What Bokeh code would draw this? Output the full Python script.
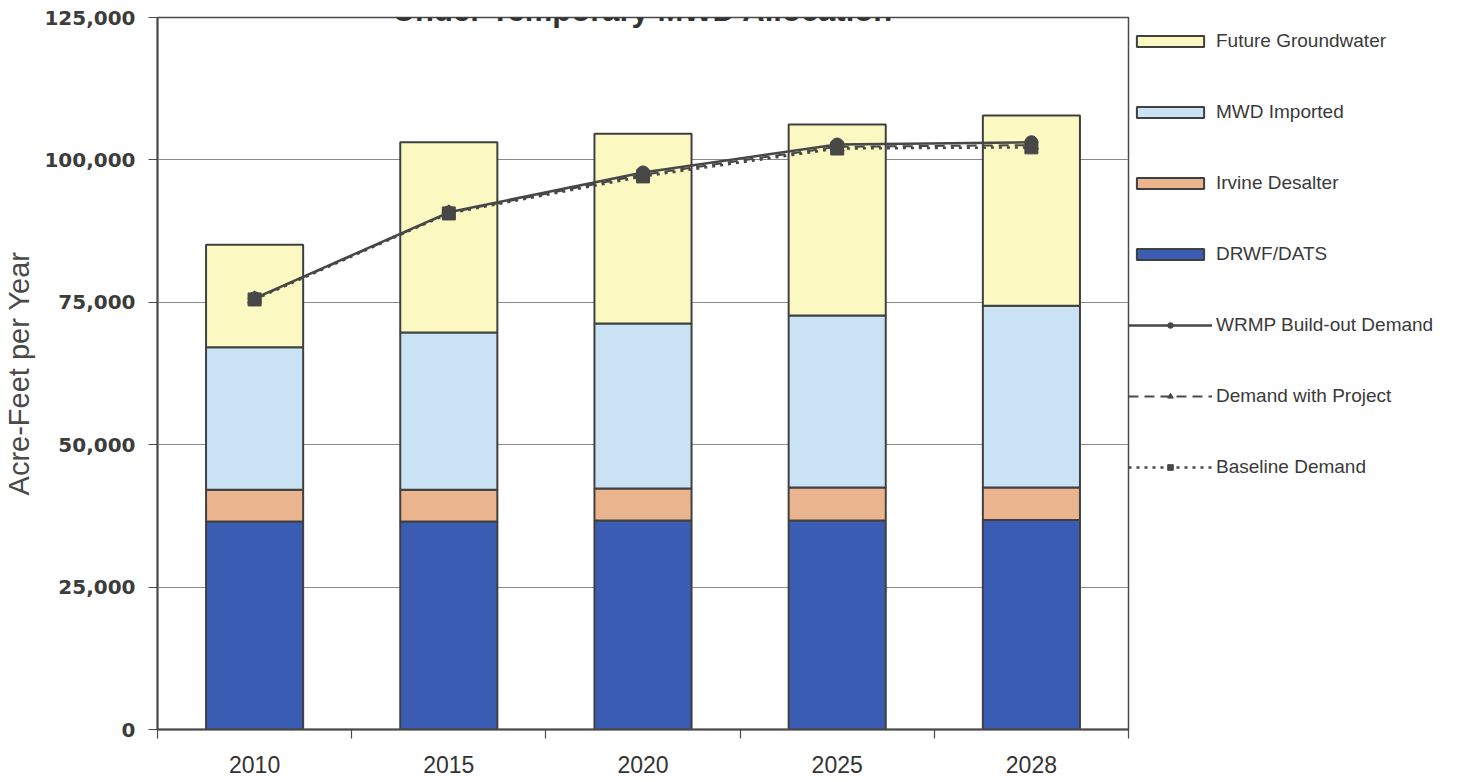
from bokeh.plotting import figure
from bokeh.models import (Range1d, FixedTicker, Legend, LegendItem, Label,
                          ColumnDataSource, NumeralTickFormatter)
from bokeh.embed import file_html
from bokeh.resources import INLINE

# ---- data ----
years = ["2010", "2015", "2020", "2025", "2028"]
drwf_dats = [36500, 36500, 36700, 36700, 36800]
irvine_desalter = [5600, 5600, 5600, 5800, 5700]
mwd_imported = [25000, 27600, 29000, 30200, 31900]
future_groundwater = [18000, 33400, 33300, 33500, 33400]
wrmp_demand = [75700, 90800, 97800, 102700, 103100]
project_demand = [75600, 90700, 97400, 102300, 102600]
baseline_demand = [75500, 90600, 97100, 102000, 102200]
y_ticks = [0, 25000, 50000, 75000, 100000, 125000]
title_text = "Under Temporary MWD Allocation"
y_label = "Acre-Feet per Year"

# category positions on a numeric axis (one unit per year)
xpos = [i + 0.5 for i in range(len(years))]
bounds = list(range(len(years) + 1))

src = ColumnDataSource(dict(
    x=xpos,
    drwf=drwf_dats, irvine=irvine_desalter, mwd=mwd_imported, future=future_groundwater,
    wrmp=wrmp_demand, proj=project_demand, base=baseline_demand,
))

p = figure(frame_width=971, frame_height=712, output_backend="svg", toolbar_location=None,
           x_range=Range1d(0, len(years)), y_range=Range1d(0, 125000),
           min_border_left=157, min_border_right=0, min_border_top=17,
           min_border_bottom=53)
p.background_fill_color = "white"
p.border_fill_color = "white"
p.outline_line_color = "#4a4a4a"
p.outline_line_width = 1.5

stack_cols = ["drwf", "irvine", "mwd", "future"]
colors = ["#3a5db3", "#eab48e", "#c9e2f4", "#fbf8c2"]
bars = p.vbar_stack(stack_cols, x="x", width=0.5, source=src, color=colors,
                    line_color="#404040", line_width=2)

line_col = "#474747"
l_wrmp = p.line("x", "wrmp", source=src, line_color=line_col, line_width=2.5)
l_proj = p.line("x", "proj", source=src, line_color=line_col, line_width=2,
                line_dash="10 6")
l_base = p.line("x", "base", source=src, line_color=line_col, line_width=2.5,
                line_dash="3 5")
m_proj = p.scatter("x", "proj", source=src, marker="triangle", size=14,
                   fill_color=line_col, line_color=line_col)
m_base = p.scatter("x", "base", source=src, marker="square", size=13,
                   fill_color=line_col, line_color=line_col)
m_wrmp = p.scatter("x", "wrmp", source=src, marker="circle", size=13,
                   fill_color=line_col, line_color=line_col)

# grid
p.xgrid.grid_line_color = None
p.ygrid.ticker = FixedTicker(ticks=y_ticks)
p.ygrid.grid_line_color = "#8a8a8a"
p.ygrid.grid_line_width = 1.2

# y axis
ya = p.yaxis[0]
ya.ticker = FixedTicker(ticks=y_ticks)
ya.formatter = NumeralTickFormatter(format="0,0")
ya.axis_line_color = "#4a4a4a"
ya.axis_line_width = 2
ya.major_tick_in = 0
ya.major_tick_out = 9
ya.major_tick_line_color = "#4a4a4a"
ya.minor_tick_line_color = None
ya.major_label_text_font = "DejaVu Sans"
ya.major_label_text_font_style = "bold"
ya.major_label_text_font_size = "20px"
ya.major_label_text_color = "#3c3c3c"
ya.major_label_standoff = 13
ya.axis_label = y_label
ya.axis_label_text_font = "Liberation Sans"
ya.axis_label_text_font_style = "normal"
ya.axis_label_text_font_size = "29px"
ya.axis_label_text_color = "#4a4a4a"
ya.axis_label_standoff = 6

# x axis: labels at centres, tick marks at category boundaries
xa = p.xaxis[0]
xa.ticker = FixedTicker(ticks=xpos, minor_ticks=bounds)
xa.major_label_overrides = {x: y for x, y in zip(xpos, years)}
xa.axis_line_color = "#4a4a4a"
xa.axis_line_width = 2
xa.major_tick_in = 0
xa.major_tick_out = 0
xa.minor_tick_in = 0
xa.minor_tick_out = 9
xa.minor_tick_line_color = "#4a4a4a"
xa.minor_tick_line_width = 1.2
xa.major_label_text_font = "Liberation Sans"
xa.major_label_text_font_size = "23px"
xa.major_label_text_color = "#333333"
xa.major_label_standoff = 17

# title (cut off at the top, as in the source)
p.add_layout(Label(x=len(years) / 2, y=126230, text=title_text,
                   text_align="center", text_baseline="alphabetic",
                   text_font="Liberation Sans", text_font_style="bold",
                   text_font_size="31px", text_color="#333333"))

legend = Legend(items=[
    LegendItem(label="Future Groundwater", renderers=[bars[3]]),
    LegendItem(label="MWD Imported", renderers=[bars[2]]),
    LegendItem(label="Irvine Desalter", renderers=[bars[1]]),
    LegendItem(label="DRWF/DATS", renderers=[bars[0]]),
    LegendItem(label="WRMP Build-out Demand", renderers=[l_wrmp, m_wrmp]),
    LegendItem(label="Demand with Project", renderers=[l_proj, m_proj]),
    LegendItem(label="Baseline Demand", renderers=[l_base, m_base]),
], location=(0, 251))
legend.glyph_width = 84
legend.glyph_height = 14
legend.label_height = 14
legend.spacing = 49
legend.padding = 12
legend.margin = 0
legend.label_standoff = 4
legend.border_line_color = None
legend.background_fill_alpha = 0
legend.label_text_font = "Liberation Sans"
legend.label_text_font_size = "19px"
legend.label_text_color = "#3a3a3a"
p.add_layout(legend, "right")

open("out.html", "w").write(file_html(p, INLINE))
